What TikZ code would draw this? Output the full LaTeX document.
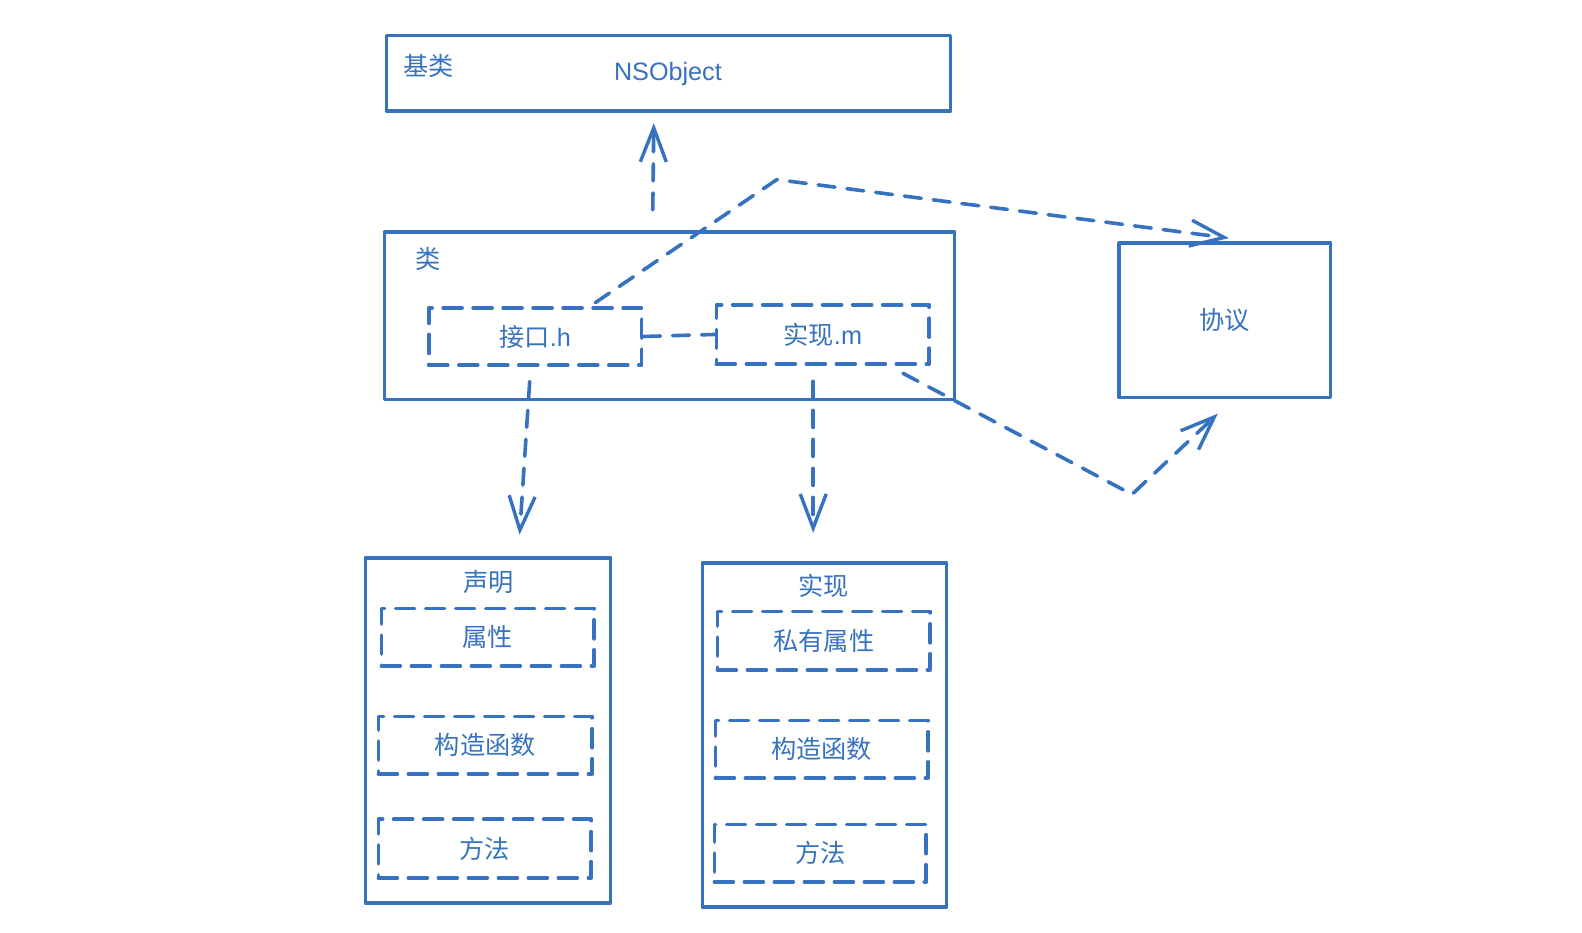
\documentclass[tikz,border=0pt]{standalone}
\usepackage{fontspec}
\setmainfont{Noto Sans CJK SC}
\newfontfamily\latfont{Liberation Sans}
\usetikzlibrary{arrows.meta,calc}
\definecolor{bl}{RGB}{54,114,191}
\begin{document}
\begin{tikzpicture}[x=0.5045pt,y=-0.5045pt,
  txt/.style={text=bl, inner sep=0pt, font=\fontsize{12.6}{15}\selectfont},
  box/.style={txt, draw=bl, line width=1.7pt, line join=round},
  dbox/.style={box, line width=1.8pt, line cap=round, dash pattern=on 9.5pt off 5.5pt},
  sz/.style 2 args={minimum width=#1*0.5045pt, minimum height=#2*0.5045pt},
  conn/.style={draw=bl, line width=1.8pt, line cap=round, line join=round, dash pattern=on 8.5pt off 6pt},
  tip/.style={-{Straight Barb[length=17pt,width=13pt,line width=1.7pt]}}
]
\useasboundingbox (0,0) rectangle (1568,924);

% boxes
\node[box, sz={559}{75}] (base) at (662.5,72.5) {};
\node[txt] (basetxt) at (662,73) {\latfont NSObject};
\node[txt] (baselbl) at (425,65) {基类};

\node[box, sz={565}{166}] (cls) at (663.5,313) {};
\node[txt] (clslbl) at (424,257) {类};
\node[dbox, sz={211}{57}] (iface) at (530.5,333.5) {接口{\latfont .h}};
\node[dbox, sz={211}{59}] (impl) at (815.5,331.5) {实现{\latfont .m}};

\node[box, sz={210}{153}] (proto) at (1214,317.5) {协议};

\node[box, sz={243}{342}] (decl) at (483.5,724) {};
\node[txt] (decllbl) at (484,577) {声明};
\node[dbox, sz={211}{57}] (dprop) at (483.5,631.5) {属性};
\node[dbox, sz={212}{57}] (dctor) at (481,738.5) {构造函数};
\node[dbox, sz={211}{58}] (dmeth) at (480.5,841) {方法};

\node[box, sz={242}{341}] (imp) at (817,728.5) {};
\node[txt] (implbl) at (816,581) {实现};
\node[dbox, sz={211}{58}] (iprop) at (816.5,635) {私有属性};
\node[dbox, sz={211}{57}] (ictor) at (814.5,742.5) {构造函数};
\node[dbox, sz={210}{57}] (imeth) at (813,845.5) {方法};

% connector points
\coordinate (upS) at (647,208);
\coordinate (upE) at (648,122);
\coordinate (pA) at (590,300);
\coordinate (pB) at (770,178);
\coordinate (pC) at (1218,236);
\coordinate (qA) at (895,370);
\coordinate (qB) at (1122,490);
\coordinate (qC) at (1207,410);
\coordinate (dLS) at (525,378);
\coordinate (dLE) at (515,530);
\coordinate (dRS) at (806,378);
\coordinate (dRE) at (806,528);

% connectors
\draw[conn, tip] (upS) -- (upE);
\draw[conn] (iface.east) -- (impl.west);
\draw[conn, tip] (pA) -- (pB) -- (pC);
\draw[conn, tip] (qA) -- (qB) -- (qC);
\draw[conn, tip] (dLS) -- (dLE);
\draw[conn, tip] (dRS) -- (dRE);
\end{tikzpicture}
\end{document}
